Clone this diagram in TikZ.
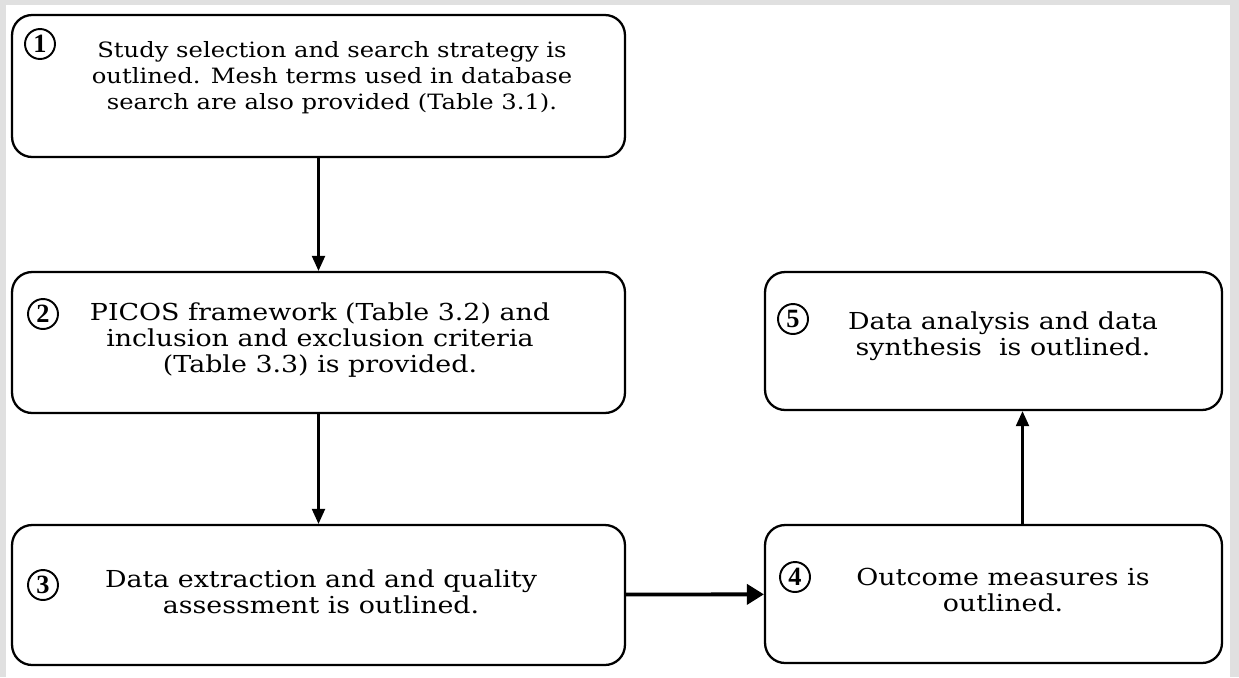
\documentclass[tikz,border=0pt]{standalone}
\usepackage{fontspec}
\setmainfont[FakeStretch=1.15]{DejaVu Serif}
\newfontfamily\numfont{Liberation Serif}
\usetikzlibrary{arrows.meta,positioning}

\tikzset{
	stepbox/.style={draw, line width=1.3pt, rounded corners=0.4cm, fill=white},
	steptext/.style={align=center, font=\fontsize{13.3}{15}\selectfont},
	stepnum/.style={draw, circle, line width=1.1pt, inner sep=0pt, minimum size=0.6cm, font=\numfont\bfseries\fontsize{15}{15}\selectfont},
	arr/.style={-{Triangle[length=0.3cm,width=0.26cm]}, line width=1.2pt}
}

\begin{document}
\begin{tikzpicture}[x=0.02cm, y=-0.02cm]
				\useasboundingbox (0,0) rectangle (1239,677);
				\fill[black!12] (0,0) rectangle (1239,677);
				\fill[white] (6,5) rectangle (1230,677);
				% boxes
				\node[stepbox, minimum width=12.26cm, minimum height=2.84cm] (s1) at (318.5,86) {};
				\node[stepbox, minimum width=12.26cm, minimum height=2.82cm] (s2) at (318.5,342.5) {};
				\node[stepbox, minimum width=12.26cm, minimum height=2.8cm] (s3) at (318.5,595) {};
				\node[stepbox, minimum width=9.14cm, minimum height=2.76cm] (s4) at (993.5,594) {};
				\node[stepbox, minimum width=9.14cm, minimum height=2.76cm] (s5) at (993.5,341) {};
				% texts
				\node[steptext, font=\fontsize{12}{14.8}\selectfont] (t1) at (332,78) {Study selection and search strategy is\\outlined. Mesh terms used in database\\search are also provided (Table 3.1).};
				\node[steptext] (t2) at (320,340) {PICOS framework (Table 3.2) and\\inclusion and exclusion criteria\\(Table 3.3) is provided.};
				\node[steptext] (t3) at (321,592) {Data extraction and and quality\\assessment is outlined.};
				\node[steptext] (t4) at (1003,590) {Outcome measures is\\outlined.};
				\node[steptext] (t5) at (1003,336) {Data analysis and data\\synthesis~~is outlined.};
				% numbers
				\node[stepnum] (n1) at (40,44) {1};
				\node[stepnum] (n2) at (43,314) {2};
				\node[stepnum] (n3) at (43,585) {3};
				\node[stepnum] (n4) at (795,577) {4};
				\node[stepnum] (n5) at (793,319) {5};
				% arrows
				\draw[arr] (s1) -- (s2);
				\draw[arr] (s2) -- (s3);
				\draw[arr, line width=2.2pt, -{Triangle[length=0.34cm,width=0.4cm]}] (s3) -- (s4);
				\draw[arr] ([xshift=0.58cm]s4.north) -- ([xshift=0.58cm]s5.south);
			\end{tikzpicture}
\end{document}
